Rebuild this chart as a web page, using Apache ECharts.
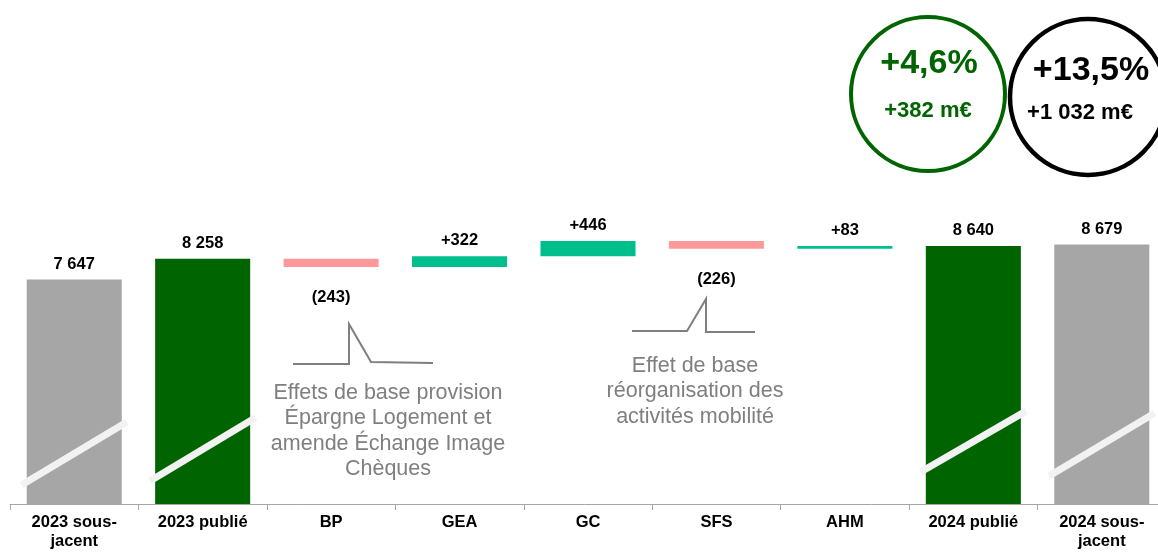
<!DOCTYPE html>
<html lang="fr">
<head>
    <meta charset="UTF-8">
    <title>Waterfall 2023-2024</title>
    <script src="https://cdn.jsdelivr.net/npm/echarts@6/dist/echarts.min.js"></script>
    <style>
        html, body { margin: 0; padding: 0; background: #fff; }
        #main { width: 1158px; height: 554px; }
    </style>
</head>
<body>
    <div id="main"></div>
<script>
    // categories of the bridge
    var categories = ['2023 sous-\njacent', '2023 publié', 'BP', 'GEA', 'GC', 'SFS', 'AHM', '2024 publié', '2024 sous-\njacent'];
    // totals (null where the bar is a variation)
    var totals = [7647, 8258, null, null, null, null, null, 8640, 8679];
    // variations between the published totals
    var deltas = [null, null, -243, 322, 446, -226, 83, null, null];
    // kind of each total bar: 'sj' = sous-jacent (grey), 'pub' = publié (green)
    var totalKind = ['sj', 'pub', null, null, null, null, null, 'pub', 'sj'];
    // axis break marks drawn on the total bars: [category index, low value, high value]
    var breakMarks = [[0, 1560, 3430], [1, 1680, 3550], [7, 1950, 3750], [8, 1830, 3690]];

    var FONT = '"Liberation Sans", Arial, sans-serif';
    var colors = { sj: '#a6a6a6', pub: '#006400', up: '#00bf8c', down: '#ff9999' };

    function fmt(v) {
        return String(Math.abs(v)).replace(/\B(?=(\d{3})+(?!\d))/g, ' ');
    }

    // build the waterfall (transparent base + visible part)
    var baseData = [];
    var barData = [];
    var running = 0;
    categories.forEach(function (c, i) {
        if (totals[i] != null) {
            running = totals[i];
            baseData.push(0);
            barData.push({
                value: totals[i],
                itemStyle: { color: colors[totalKind[i]] },
                label: { formatter: fmt(totals[i]) }
            });
        } else {
            var d = deltas[i];
            var start = running;
            running = running + d;
            baseData.push(Math.min(start, running));
            barData.push({
                value: Math.abs(d),
                itemStyle: { color: d >= 0 ? colors.up : colors.down },
                label: d >= 0
                    ? { formatter: '+' + fmt(d) }
                    : { formatter: '(' + fmt(d) + ')', position: 'bottom', distance: 22 }
            });
        }
    });

    var myChart = echarts.init(document.getElementById('main'));

    myChart.setOption({
        animation: false,
        textStyle: { fontFamily: FONT },
        grid: { left: 10, right: -8, top: 200, bottom: 50, outerBoundsMode: 'none', containLabel: false },
        xAxis: {
            type: 'category',
            data: categories,
            axisLine: { lineStyle: { color: '#a6a6a6', width: 1 } },
            axisTick: { show: true, length: 6, lineStyle: { color: '#a6a6a6', width: 1 } },
            axisLabel: {
                color: '#000',
                fontWeight: 'bold',
                fontSize: 16.5,
                lineHeight: 19,
                margin: 9,
                fontFamily: FONT,
                interval: 0
            }
        },
        yAxis: {
            type: 'value',
            min: 1000,
            max: 10000,
            show: false,
            splitLine: { show: false }
        },
        series: [
            {
                name: 'base',
                type: 'bar',
                stack: 'w',
                barWidth: '74%',
                itemStyle: { color: 'transparent' },
                data: baseData,
                silent: true
            },
            {
                name: 'valeur',
                type: 'bar',
                stack: 'w',
                barWidth: '74%',
                data: barData,
                label: {
                    show: true,
                    position: 'top',
                    distance: 7,
                    color: '#000',
                    fontWeight: 'bold',
                    fontSize: 16.5,
                    fontFamily: FONT
                }
            },
            {
                name: 'rupture',
                type: 'custom',
                z: 5,
                data: breakMarks,
                renderItem: function (params, api) {
                    var p1 = api.coord([api.value(0), api.value(1)]);
                    var p2 = api.coord([api.value(0), api.value(2)]);
                    var half = api.size([1, 0])[0] * 0.41;
                    return {
                        type: 'line',
                        shape: { x1: p1[0] - half, y1: p1[1], x2: p2[0] + half, y2: p2[1] },
                        style: { stroke: '#f2f2f2', lineWidth: 7 }
                    };
                }
            }
        ],
        graphic: [
            {
                type: 'polyline',
                shape: { points: [[293, 364], [349, 364], [349, 324], [371, 362], [433, 363]] },
                style: { stroke: '#7f7f7f', lineWidth: 2, fill: null }
            },
            {
                type: 'text',
                x: 388, y: 380,
                style: {
                    text: 'Effets de base provision\nÉpargne Logement et\namende Échange Image\nChèques',
                    fill: '#7f7f7f', font: '21.5px ' + FONT, align: 'center', lineHeight: 25.5
                }
            },
            {
                type: 'polyline',
                shape: { points: [[632, 331], [687, 331], [706, 299], [706, 332], [755, 332]] },
                style: { stroke: '#7f7f7f', lineWidth: 2, fill: null }
            },
            {
                type: 'text',
                x: 695, y: 353,
                style: {
                    text: 'Effet de base\nréorganisation des\nactivités mobilité',
                    fill: '#7f7f7f', font: '21.5px ' + FONT, align: 'center', lineHeight: 25.5
                }
            },
            {
                type: 'circle',
                shape: { cx: 928, cy: 94, r: 77 },
                style: { stroke: '#006400', lineWidth: 4, fill: null }
            },
            {
                type: 'text',
                x: 929, y: 64,
                style: { text: '+4,6%', fill: '#006400', font: 'bold 34px ' + FONT, align: 'center', verticalAlign: 'middle' }
            },
            {
                type: 'text',
                x: 928, y: 111,
                style: { text: '+382 m€', fill: '#006400', font: 'bold 22px ' + FONT, align: 'center', verticalAlign: 'middle' }
            },
            {
                type: 'circle',
                shape: { cx: 1088, cy: 97, r: 78 },
                style: { stroke: '#000', lineWidth: 4.5, fill: null }
            },
            {
                type: 'text',
                x: 1091, y: 71,
                style: { text: '+13,5%', fill: '#000', font: 'bold 34px ' + FONT, align: 'center', verticalAlign: 'middle' }
            },
            {
                type: 'text',
                x: 1080, y: 113,
                style: { text: '+1 032 m€', fill: '#000', font: 'bold 22px ' + FONT, align: 'center', verticalAlign: 'middle' }
            }
        ]
    });
</script>
</body>
</html>
